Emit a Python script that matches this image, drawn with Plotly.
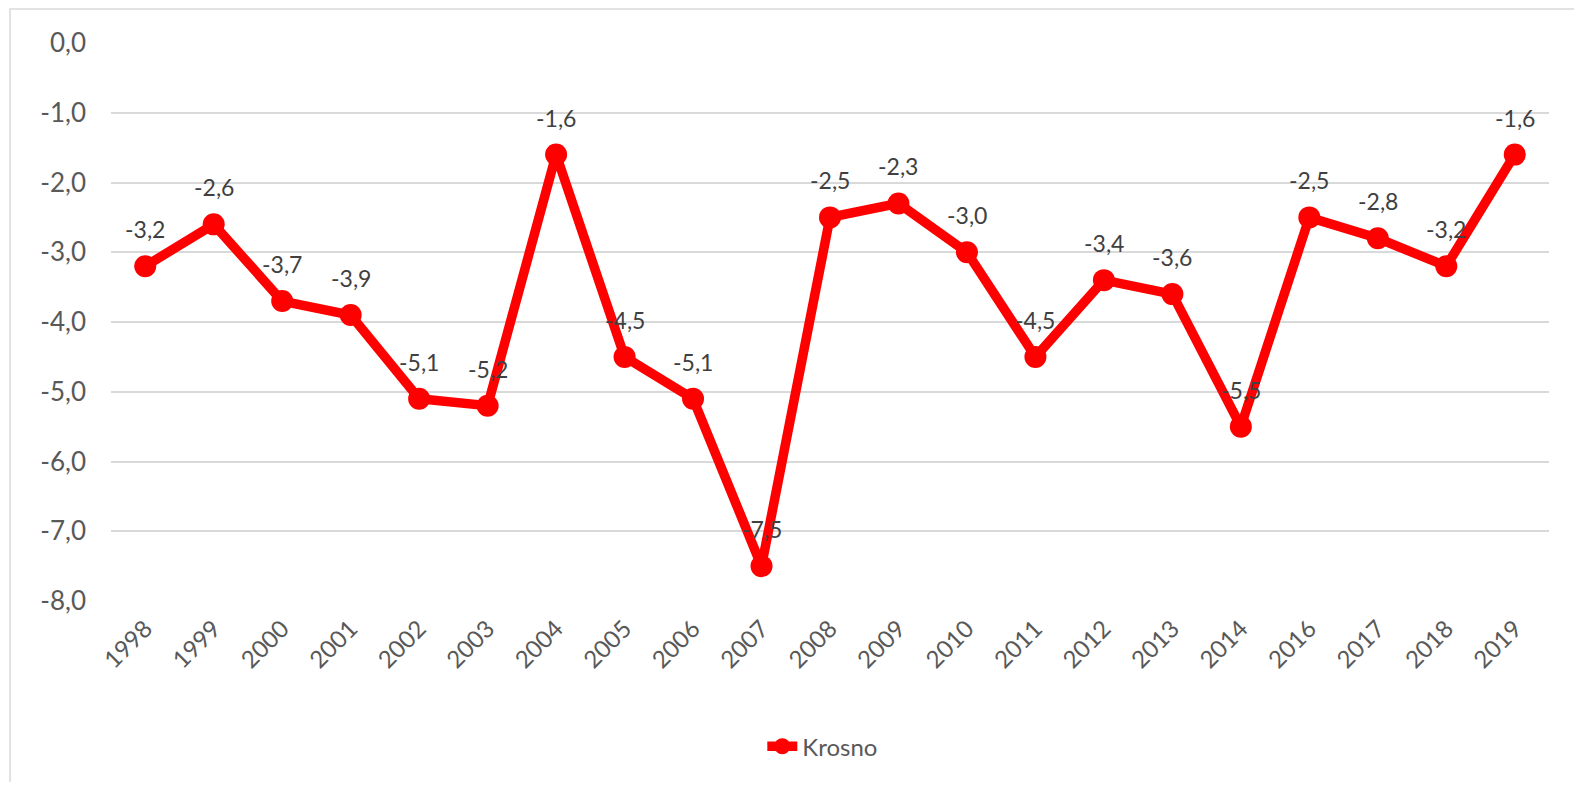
import plotly.graph_objects as go

years = ["1998", "1999", "2000", "2001", "2002", "2003", "2004", "2005", "2006", "2007", "2008",
         "2009", "2010", "2011", "2012", "2013", "2014", "2016", "2017", "2018", "2019"]
krosno = [-3.2, -2.6, -3.7, -3.9, -5.1, -5.2, -1.6, -4.5, -5.1, -7.5, -2.5,
          -2.3, -3.0, -4.5, -3.4, -3.6, -5.5, -2.5, -2.8, -3.2, -1.6]
y_ticks = [0, -1, -2, -3, -4, -5, -6, -7, -8]


def pl(v):
    return f"{v:.1f}".replace(".", ",")


FONT = "Lato, 'Open Sans', sans-serif"
GRAY = "#595959"

fig = go.Figure()
fig.add_trace(go.Scatter(
    x=years, y=krosno, name="Krosno", mode="lines+markers",
    line=dict(color="#FF0000", width=9.5),
    marker=dict(color="#FF0000", size=22),
))

# etykiety danych nad punktami
for i, v in enumerate(krosno):
    fig.add_annotation(x=i, y=v, xref="x", yref="y", text=pl(v), showarrow=False,
                       yshift=37, font=dict(family=FONT, size=23, color="#404040"))

# ramka wykresu (widoczna tylko z lewej i u gory)
fig.add_shape(type="rect", xref="paper", yref="paper", x0=-0.0702, x1=1.2, y0=-0.6, y1=1.061,
              line=dict(color="#D9D9D9", width=1.5), layer="below")

# strona ma 8px marginesu body, stad 1566x774
fig.update_layout(
    width=1566, height=774,
    margin=dict(l=103, r=25, t=35, b=181, autoexpand=False),
    paper_bgcolor="white", plot_bgcolor="white",
    font=dict(family=FONT, size=18, color=GRAY),
    showlegend=True,
    legend=dict(orientation="h", x=0.495, xanchor="center", y=-0.261, yanchor="middle",
                font=dict(family=FONT, size=24, color=GRAY)),
    xaxis=dict(type="category", range=[-0.5, len(years) - 0.5], showgrid=False, automargin=False,
               showline=False, ticks="", tickangle=-45, ticklabelstandoff=8,
               tickfont=dict(family=FONT, size=24, color=GRAY)),
    yaxis=dict(range=[-8, 0], tickvals=y_ticks, ticktext=[pl(t) for t in y_ticks], showgrid=True,
               gridcolor="#D9D9D9", gridwidth=1.5, zeroline=False, showline=False, automargin=False,
               ticklabelstandoff=24, tickfont=dict(family=FONT, size=26, color=GRAY)),
)

fig.write_html("out.html")
